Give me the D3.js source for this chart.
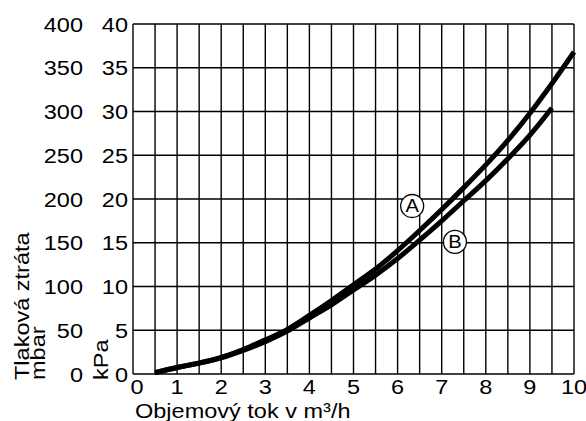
<!DOCTYPE html>
<html>
<head>
<meta charset="utf-8">
<script src="https://cdn.jsdelivr.net/npm/d3@7"></script>
<style>
  html, body { margin: 0; padding: 0; background: #fff; }
  svg { display: block; font-family: "Liberation Sans", Arial, sans-serif; }
</style>
</head>
<body>
<svg id="chart" width="586" height="421"></svg>
<script>
// Data
const flowA = [0.5,1,1.5,2,2.5,3,3.5,4,4.5,5,5.5,6,6.5,7,7.5,8,8.5,9,9.5,10];
const kpaA  = [0.15,0.75,1.25,1.9,2.8,3.9,5.1,6.7,8.4,10.2,12.0,14.1,16.4,18.8,21.3,23.9,26.7,29.8,33.2,36.8];
const flowB = [0.5,1,1.5,2,2.5,3,3.5,4,4.5,5,5.5,6,6.5,7,7.5,8,8.5,9,9.5];
const kpaB  = [0.15,0.75,1.25,1.85,2.7,3.7,4.9,6.4,7.9,9.6,11.3,13.2,15.3,17.5,19.8,22.1,24.6,27.3,30.4];
const xTicks = [0,1,2,3,4,5,6,7,8,9,10];
const kpaTicks = [0,5,10,15,20,25,30,35,40];
const mbarTicks = [0,50,100,150,200,250,300,350,400];
const curveLabels = [{name:"A", flow:6.33, kpa:19.2}, {name:"B", flow:7.3, kpa:15.1}];
const xTitle = "Objemový tok v m³/h";
const yTitle1 = "Tlaková ztráta";
const yTitle2 = "mbar";
const yTitle3 = "kPa";

const svg = d3.select("#chart");
const L = 133, R = 574, T = 24, B = 374;
const SX = 1.12; // horizontal glyph stretch of the original lettering
const FS = 21;
const x = d3.scaleLinear().domain([0,10]).range([L,R]);
const y = d3.scaleLinear().domain([0,40]).range([B,T]);

function label(px, py, str, anchor, size, rot) {
  return svg.append("text")
    .attr("transform", `translate(${px},${py})` + (rot ? ` rotate(${rot})` : "") + ` scale(${SX},1)`)
    .attr("text-anchor", anchor).attr("font-size", size).text(str);
}

// grid
const g = svg.append("g");
g.selectAll("line.v").data(d3.range(0, 10.01, 0.5)).enter().append("line")
  .attr("x1", d => x(d)).attr("x2", d => x(d)).attr("y1", T).attr("y2", B)
  .attr("stroke", "#000").attr("stroke-width", 1.4);
g.selectAll("line.h").data(kpaTicks).enter().append("line")
  .attr("x1", L).attr("x2", R).attr("y1", d => y(d)).attr("y2", d => y(d))
  .attr("stroke", "#000").attr("stroke-width", 1.4);

// x tick labels
xTicks.forEach(d => label(x(d) + (d === 0 ? 4 : 0), 393.5, d, "middle", FS));
// kPa labels
kpaTicks.forEach(d => label(128, y(d) + 7.5, d, "end", FS));
// mbar labels
mbarTicks.forEach((d, i) => label(83, y(kpaTicks[i]) + 7.5, d, "end", FS));

// titles
label(135, 417.5, xTitle, "start", FS);
label(29, 380, yTitle1, "start", FS, -90);
label(45, 380, yTitle2, "start", FS, -90);
label(108, 380, yTitle3, "start", FS, -90);

// curves
const line = d3.line().x(d => x(d[0])).y(d => y(d[1])).curve(d3.curveMonotoneX);
svg.append("path").datum(d3.zip(flowA, kpaA)).attr("d", line)
  .attr("fill", "none").attr("stroke", "#000").attr("stroke-width", 5);
svg.append("path").datum(d3.zip(flowB, kpaB)).attr("d", line)
  .attr("fill", "none").attr("stroke", "#000").attr("stroke-width", 5);

// curve labels
const lg = svg.selectAll("g.lab").data(curveLabels).enter().append("g")
  .attr("transform", d => `translate(${x(d.flow)},${y(d.kpa)})`);
lg.append("circle").attr("r", 11.5).attr("fill", "#fff").attr("stroke", "#000").attr("stroke-width", 1.3);
lg.append("text").attr("text-anchor", "middle").attr("dy", "0.36em")
  .attr("transform", `scale(${SX},1)`)
  .attr("font-size", 18).text(d => d.name);
</script>
</body>
</html>
